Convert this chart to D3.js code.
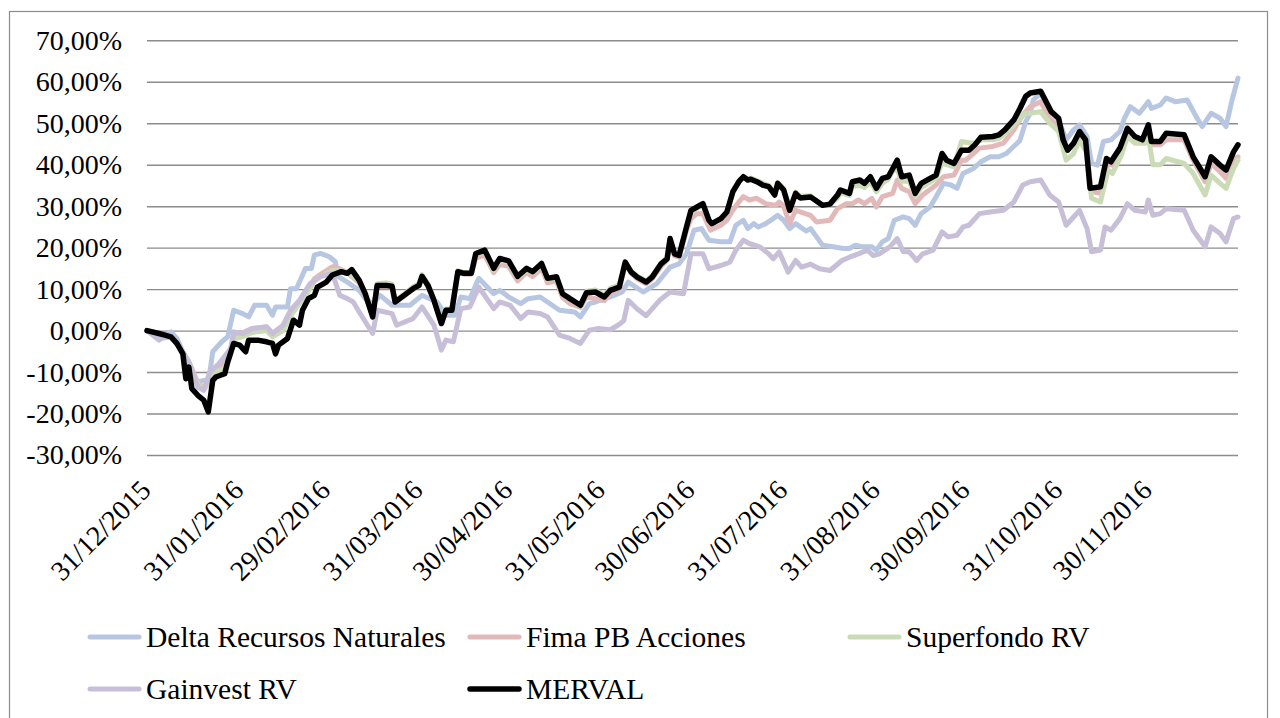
<!DOCTYPE html>
<html><head><meta charset="utf-8">
<script src="https://cdn.jsdelivr.net/npm/d3@7"></script>
<style>body{margin:0;background:#fff} svg{display:block}</style>
</head><body><svg id="c" width="1280" height="718"></svg>
<script>
// ---------- DATA ----------
const startDate = new Date(2015, 11, 31);
const endDate = new Date(2016, 11, 30);
const yTicks = [-30, -20, -10, 0, 10, 20, 30, 40, 50, 60, 70];
const yTickLabels = ["-30,00%","-20,00%","-10,00%","0,00%","10,00%","20,00%","30,00%","40,00%","50,00%","60,00%","70,00%"];
const xTickDates = ["2015-12-31","2016-01-31","2016-02-29","2016-03-31","2016-04-30","2016-05-31","2016-06-30","2016-07-31","2016-08-31","2016-09-30","2016-10-31","2016-11-30"];
const xTickLabels = ["31/12/2015","31/01/2016","29/02/2016","31/03/2016","30/04/2016","31/05/2016","30/06/2016","31/07/2016","31/08/2016","30/09/2016","31/10/2016","30/11/2016"];
const seriesNames = ["Delta Recursos Naturales","Fima PB Acciones","Superfondo RV","Gainvest RV","MERVAL"];

// [days since 31/12/2015, cumulative return %]
const delta = [[0,0],[4,-2.3],[8,-0.3],[10,-1.9],[12,-5.1],[14,-8.8],[17,-12.4],[19,-12],[20.5,-12.8],[22,-5.1],[25,-2.7],[27,-1.5],[29,4.9],[32,4.1],[34,3.3],[36,6.1],[40,6.1],[42,3.7],[43,5.7],[47,5.7],[48,10.1],[50,10.1],[53,15],[55,15],[56,18.2],[58,18.6],[61,17.8],[63,16.6],[64,13],[67,11.7],[71,9.7],[73,7.7],[75.5,6.5],[78,8.5],[82,6.1],[88,6.1],[92,8.5],[97,6.9],[100,3.7],[103,3.7],[105,8.1],[108,7.7],[111,12.6],[116,8.9],[118,9.7],[121,8.1],[125,6.5],[127.5,7.7],[131.5,8.1],[134,6.9],[138,4.9],[143,4.5],[145,3.3],[148,6.5],[150,6.9],[155,8.1],[159,9.3],[161,11.7],[166,9.3],[170.5,11.3],[175,15.3],[178,16.1],[180.5,18.5],[183,24.2],[185.5,24.6],[188,21.8],[192,21.4],[195,21.4],[197,25.4],[199.5,26.6],[201,24.6],[203,25.8],[204.5,25],[207,25.8],[209.5,27],[211,27.8],[213,26.6],[215,24.6],[217,25.8],[220.5,24],[222,24.6],[224,22.6],[226,20.6],[229.5,20.2],[233,19.8],[235,19.8],[237,20.6],[239.5,20.2],[242.5,20.2],[244,19.4],[246,21.4],[248,22.2],[250,26.6],[253,27.4],[255,27],[257,25.4],[259,28.2],[262,29.8],[264,32.3],[266.5,35.5],[269,35.1],[271,34.3],[273,37.9],[276.5,39.1],[279,40.7],[282,41.9],[285,41.9],[287.5,42.7],[292,45.8],[294,50.4],[295.5,52.4],[296.5,55.6],[299,57.3],[302,53.2],[305,50.8],[307.5,46],[310,48.4],[312,49.6],[314.5,46.8],[316,40.3],[318,39.9],[320,45.6],[322.5,46],[325.5,48],[327,51.2],[329,54],[332,52.4],[335,55.2],[336,53.6],[339,54.4],[341,56.1],[344,55.2],[348,55.6],[351,51.6],[353,49.2],[356,52.4],[359,51.2],[361,49.2],[363,55.6],[365,60.9]];

const fima = [[0,0],[4,-0.7],[8,-1.5],[11,-4],[14,-7.5],[17,-12.5],[19,-14],[21,-12],[23,-9],[26,-8],[28,-4.5],[29,-1],[32,-0.5],[35,0.5],[40,0.9],[42,-0.7],[45.5,1],[48,4.5],[51,7],[54,10],[56,12.5],[58,13.5],[62,15.4],[64,15],[67,14],[71,11.5],[73,8.5],[75.5,3.5],[77,10.7],[80,10.7],[82,10.5],[83,6.8],[86,8.3],[89,10],[91,10.8],[92,13],[94,10.7],[96,7.2],[98.5,1.8],[100,4.8],[102,4.8],[104,14],[106,13.6],[108.5,13.6],[110,17.5],[113,18.2],[116,14],[118,16],[121,15.5],[124,12],[127,14],[129,13],[132,15],[134,11.5],[137,12],[139,8],[141.5,6.5],[145,5.6],[147,8.1],[150,7.7],[153,7.2],[155,8.9],[158,10],[160,16],[162,13.8],[164,12.5],[167,11.3],[169,12.5],[172,15.5],[174,17],[175,21.2],[176.5,18],[178,17.7],[180.5,24.2],[182,27],[184,28.2],[186,28.2],[188.5,24.2],[192,25.4],[194,26.6],[196,29],[198,31],[199.5,32.3],[201.5,31.5],[204,31.9],[207,30.6],[210.5,30.2],[211.5,31],[213,30],[215,25.8],[217,29],[222,27.8],[224,26.2],[228.5,26.6],[231,29.4],[234,30.6],[236,30.6],[238,31.5],[240,30.6],[242.5,31.9],[244,29.8],[246,32.3],[249.5,33.1],[251,36.3],[252.5,34.3],[255,33.5],[257,30.6],[259.5,32.7],[264,35.1],[266.5,37.1],[270,37.5],[272.5,41.1],[274,41.1],[278.5,44],[283,44.4],[286.5,45.2],[290,48.4],[293,52],[295.5,54],[299,55.2],[302,51.2],[305,49.2],[307.5,44],[310,44.4],[312,46.8],[314,44.8],[316,33.5],[319,33.1],[321.5,40.3],[323,39.9],[326,43.1],[328,47.6],[330.5,46],[334,45.6],[335,47.6],[336.5,44.8],[339,44.8],[341,46],[347,46],[350,41.1],[354,35.9],[356,40.3],[359,38.3],[361,36.7],[363.5,41.1],[365,41.9]];

const superfondo = [[0,0],[4,-0.8],[8,-1.6],[11,-4.2],[14,-8],[17,-12.8],[19,-14.2],[21,-12.5],[23,-10],[26,-9],[28,-5.5],[29,-2],[32,-1.5],[35,-0.5],[40,0],[42,-1.5],[45.5,0],[48,3.5],[51,6.5],[54,9.5],[56,12],[58,13],[62,14.5],[64,14.5],[67,14],[71,12],[73,9],[75.5,3.8],[77,11.3],[80,11.5],[82,11.2],[83,7.2],[86,8.8],[89,10.5],[91,11.3],[92,13.5],[94,11.2],[96,7.6],[98.5,2.2],[100,5.2],[102,5.2],[104,14.4],[106,14],[108.5,14],[110,18.3],[113,19],[116,14.6],[118,17],[121,16.4],[124,12.8],[127,14.7],[129,14],[132,15.8],[134,12.4],[137,12.8],[139,8.7],[141.5,7.5],[145,6],[147,9.5],[150,9.8],[153,8.5],[155,10.2],[158,11],[160,16.6],[162,14.3],[164,13.2],[167,12],[169,13.2],[172,16.3],[174,17.5],[175,22],[176.5,18.5],[178,18.2],[180.5,24.8],[182,28.5],[184,29.5],[186,30.3],[188,26.4],[189,25.8],[192,27],[194,28.5],[196,33.2],[198,35.8],[199.5,37],[201,36.5],[202,36.8],[204,36.2],[206,35.5],[208,35],[210,33],[211,35.7],[213,34.3],[215,29.5],[217,33.4],[218.5,32.4],[222,32.5],[223.5,31.5],[226,30.3],[228.5,30.4],[231,32],[232,33.2],[235,32.6],[236,34.8],[238.5,35],[240,34.5],[242,35.8],[244,33.5],[246,35.5],[248,36.5],[249.5,38.7],[251,38.9],[252.5,36],[255,36],[257,32.5],[259,34.5],[262,35.8],[264,36.8],[266,40.5],[267.5,40],[270,39.5],[272.5,45.6],[275,45.3],[277,45.2],[279,46],[283,46],[285,46.3],[287,47.5],[290,49.5],[292,51.2],[294,52.4],[295.5,52.4],[299,52.8],[302,50],[305,48],[307.5,41.1],[310,42.7],[312,46],[314.5,42.7],[316,31.9],[319,31],[321.5,38.7],[323,37.9],[326,42.3],[328,46.8],[330.5,45.2],[334,45.2],[335,46.8],[336.5,40],[339,40],[341,41.5],[347,40.3],[350,37.9],[354,32.7],[356,37.5],[359,35.5],[361,34.3],[363.5,39.1],[365,41.1]];

const gainvest = [[0,0],[4,-2],[8,-1.5],[11,-4],[14,-7.6],[17,-13.6],[19,-14.4],[21,-10],[24,-8],[28,-4.3],[29,-0.3],[32,-0.7],[35.5,0.5],[40,0.9],[42,-0.7],[45.5,1.3],[48,4.9],[51,7.3],[54.5,11.3],[58,13],[62,13.8],[64.5,8.5],[67,7.7],[69,6.9],[71,4.5],[75.5,-0.7],[77,4.9],[82,4.1],[83.5,1.3],[89,2.9],[92,5.7],[96,1.3],[98.5,-4.7],[100,-2.3],[102.5,-2.7],[105,5.3],[108,5.7],[111,10.5],[116,5.3],[118,6.9],[121.5,6.1],[125,2.9],[127.5,4.5],[131.5,4.1],[134,3.3],[138,-1.1],[141.5,-1.9],[145,-3.1],[148,0.1],[151,0.5],[155,0.2],[158,1.5],[159.5,2.4],[161,7.3],[164,5.2],[167,3.6],[171.5,7.3],[175,9.3],[179.5,8.9],[182,18.5],[186,18.5],[188,14.9],[192,15.7],[195,16.5],[197,19.4],[199.5,21.8],[201.5,21],[205,20.2],[208,18.5],[209.5,17.3],[211.5,19],[214.5,14.1],[217,16.9],[219,15.3],[222,16],[225,14.9],[228.5,14.5],[232.5,16.9],[235,17.7],[238,18.5],[241,19.4],[243,18.1],[245,18.5],[248.5,20.2],[251,22.2],[253,19],[255,19],[257.5,16.9],[259.5,18.5],[263,19.4],[266,23.8],[268,22.6],[271,23],[273,25],[275,25.4],[278.5,28.2],[282,28.6],[286.5,29],[290,31],[293,35.1],[295.5,35.9],[299,36.3],[302,32.7],[305,31],[307.5,25.4],[310,27.4],[312,29],[314.5,24.6],[316,19],[319,19.4],[320.5,25],[322.5,24.2],[325.5,27],[328,30.6],[330.5,29],[334,28.6],[335,31.5],[336.5,27.8],[339,28.2],[341,29.4],[347,29],[350,24.2],[354,20.2],[356,25],[359,23.4],[361,21.4],[363.5,27],[365,27.4]];

const merval = [[0,0],[4,-0.7],[6,-1.1],[8,-1.5],[10,-3.1],[12,-5.6],[13,-11.6],[14,-8.8],[15,-14],[17,-15.6],[19,-16.8],[20.5,-19.6],[22,-12],[23,-11.2],[26,-10.4],[27,-7.6],[29,-3.1],[31,-3.5],[33,-5.1],[34,-2.3],[37,-2.3],[40,-2.7],[42,-3.1],[43,-5.6],[44,-3.5],[47,-1.9],[49,2.5],[51,1.3],[52,4.9],[54,7.7],[56,8.5],[57,10.5],[60,11.7],[62,13.4],[65,14.2],[67,13.8],[68.5,14.7],[71,12.1],[73,8.9],[75.5,3.3],[77,10.9],[80,10.9],[82,10.7],[83,6.9],[86,8.5],[89,10.1],[91,10.9],[92,13.1],[94,10.9],[96,7.3],[98.5,1.7],[100,4.9],[102,4.9],[104,14.2],[106,13.8],[108.5,13.8],[110,18.6],[113,19.4],[116,15],[118,17.4],[121,16.8],[124,13.1],[127,15],[129,14.2],[132,16.2],[134,12.6],[137,13],[139,8.9],[141.5,7.7],[145,6.1],[147,9.1],[150,9.3],[153,8.1],[155,9.7],[158,10.5],[160,16.5],[162,14.1],[164,12.9],[167,11.7],[169,12.9],[172,16.1],[174,17.3],[175,22.2],[176.5,18.5],[178,18.1],[180.5,25],[182,29],[184,29.8],[186,30.6],[188,26.6],[189,25.8],[192,27],[194,28.6],[196,33.5],[198,35.9],[199.5,37.1],[201,36.3],[202,36.5],[204,35.9],[206,35.1],[208,34.7],[210,32.7],[211,35.5],[213,33.9],[215,29],[217,33.1],[218.5,32],[222,32.2],[223.5,31.5],[226,30.2],[228.5,30.5],[231,32.7],[232,33.9],[235,33.1],[236,35.9],[238.5,36.3],[240,35.5],[242,37.1],[244,34.3],[246,36.7],[248,37.1],[249.5,39.1],[251,41.1],[252.5,37.1],[255,37.5],[257,33.1],[259,35.5],[262,36.7],[264,37.5],[266,42.7],[267.5,41.1],[270,40.3],[272.5,43.5],[275,43.5],[277,44.8],[279,46.6],[283,46.8],[285,47.2],[287,48.4],[290,50.8],[292,53.5],[294,56.5],[295.5,57.3],[299,57.7],[302.5,52.8],[305,51.2],[306.5,46],[308,43.5],[310,45.2],[312,48],[314,46],[315.5,34.3],[319,34.7],[321,41.5],[322.5,40.7],[325.5,44],[328,48.8],[330.5,46.8],[333,46],[335,49.6],[336,45.6],[339,45.6],[341,47.6],[347,47.2],[350,41.9],[354,37.1],[356,41.9],[359,39.9],[361,38.7],[363.5,43.1],[365,44.8]];

const seriesData = [delta, fima, superfondo, gainvest, merval];
const seriesColors = ["#b8c7e1", "#e2b9b8", "#cadbb5", "#c7bfd8", "#000000"];
const seriesWidths = [5, 5, 5, 5, 5.5];

// ---------- CHART ----------
const svg = d3.select("#c");
const FONT = "'Liberation Serif', 'Times New Roman', serif";
const plot = {left: 147, right: 1238, top: 40.3, bottom: 455};

svg.append("rect").attr("x", 9.5).attr("y", 11.5).attr("width", 1258).attr("height", 720)
  .attr("fill", "none").attr("stroke", "#8c8c8c").attr("stroke-width", 1.2);

const x = d3.scaleTime().domain([startDate, endDate]).range([plot.left, plot.right]);
const y = d3.scaleLinear().domain([-30, 70]).range([plot.bottom, plot.top]);
const toDate = d => new Date(startDate.getTime() + d * 864e5);

// y axis with gridlines
const yAxis = svg.append("g").attr("transform", `translate(${plot.left},0)`)
  .call(d3.axisLeft(y).tickValues(yTicks).tickFormat((d, i) => yTickLabels[i])
    .tickSize(-(plot.right - plot.left)).tickPadding(25));
yAxis.select(".domain").remove();
yAxis.selectAll(".tick line").attr("stroke", "#8c8c8c").attr("stroke-width", 1.4);
yAxis.selectAll(".tick text").attr("font-family", FONT).attr("font-size", 28).attr("fill", "#000");

// x axis
const parse = d3.timeParse("%Y-%m-%d");
const xAxis = svg.append("g").attr("transform", `translate(0,${plot.bottom})`)
  .call(d3.axisBottom(x).tickValues(xTickDates.map(parse)).tickFormat((d, i) => xTickLabels[i]).tickSize(0));
xAxis.select(".domain").remove();
xAxis.selectAll(".tick text")
  .attr("font-family", FONT).attr("font-size", 28).attr("fill", "#000")
  .attr("text-anchor", "end").attr("x", 0).attr("y", 0).attr("dy", "0.35em")
  .attr("transform", "translate(-2,30) rotate(-45)");

// lines
const line = d3.line().x(d => x(toDate(d[0]))).y(d => y(d[1]));
seriesData.forEach((s, i) => {
  svg.append("path").datum(s).attr("d", line)
    .attr("fill", "none").attr("stroke", seriesColors[i]).attr("stroke-width", seriesWidths[i])
    .attr("stroke-linejoin", "round").attr("stroke-linecap", "round");
});

// legend
const legendPos = [[88, 637], [468, 637], [848, 637], [88, 689], [468, 689]];
seriesNames.forEach((name, i) => {
  const [lx, ly] = legendPos[i];
  const g = svg.append("g").attr("transform", `translate(${lx},${ly})`);
  g.append("line").attr("x1", 2).attr("x2", 51).attr("y1", 0).attr("y2", 0)
    .attr("stroke", seriesColors[i]).attr("stroke-width", seriesWidths[i]).attr("stroke-linecap", "round");
  g.append("text").attr("x", 58).attr("y", 0).attr("dy", "0.35em")
    .attr("font-family", FONT).attr("font-size", 29.5).attr("fill", "#000").text(name);
});
</script></body></html>
